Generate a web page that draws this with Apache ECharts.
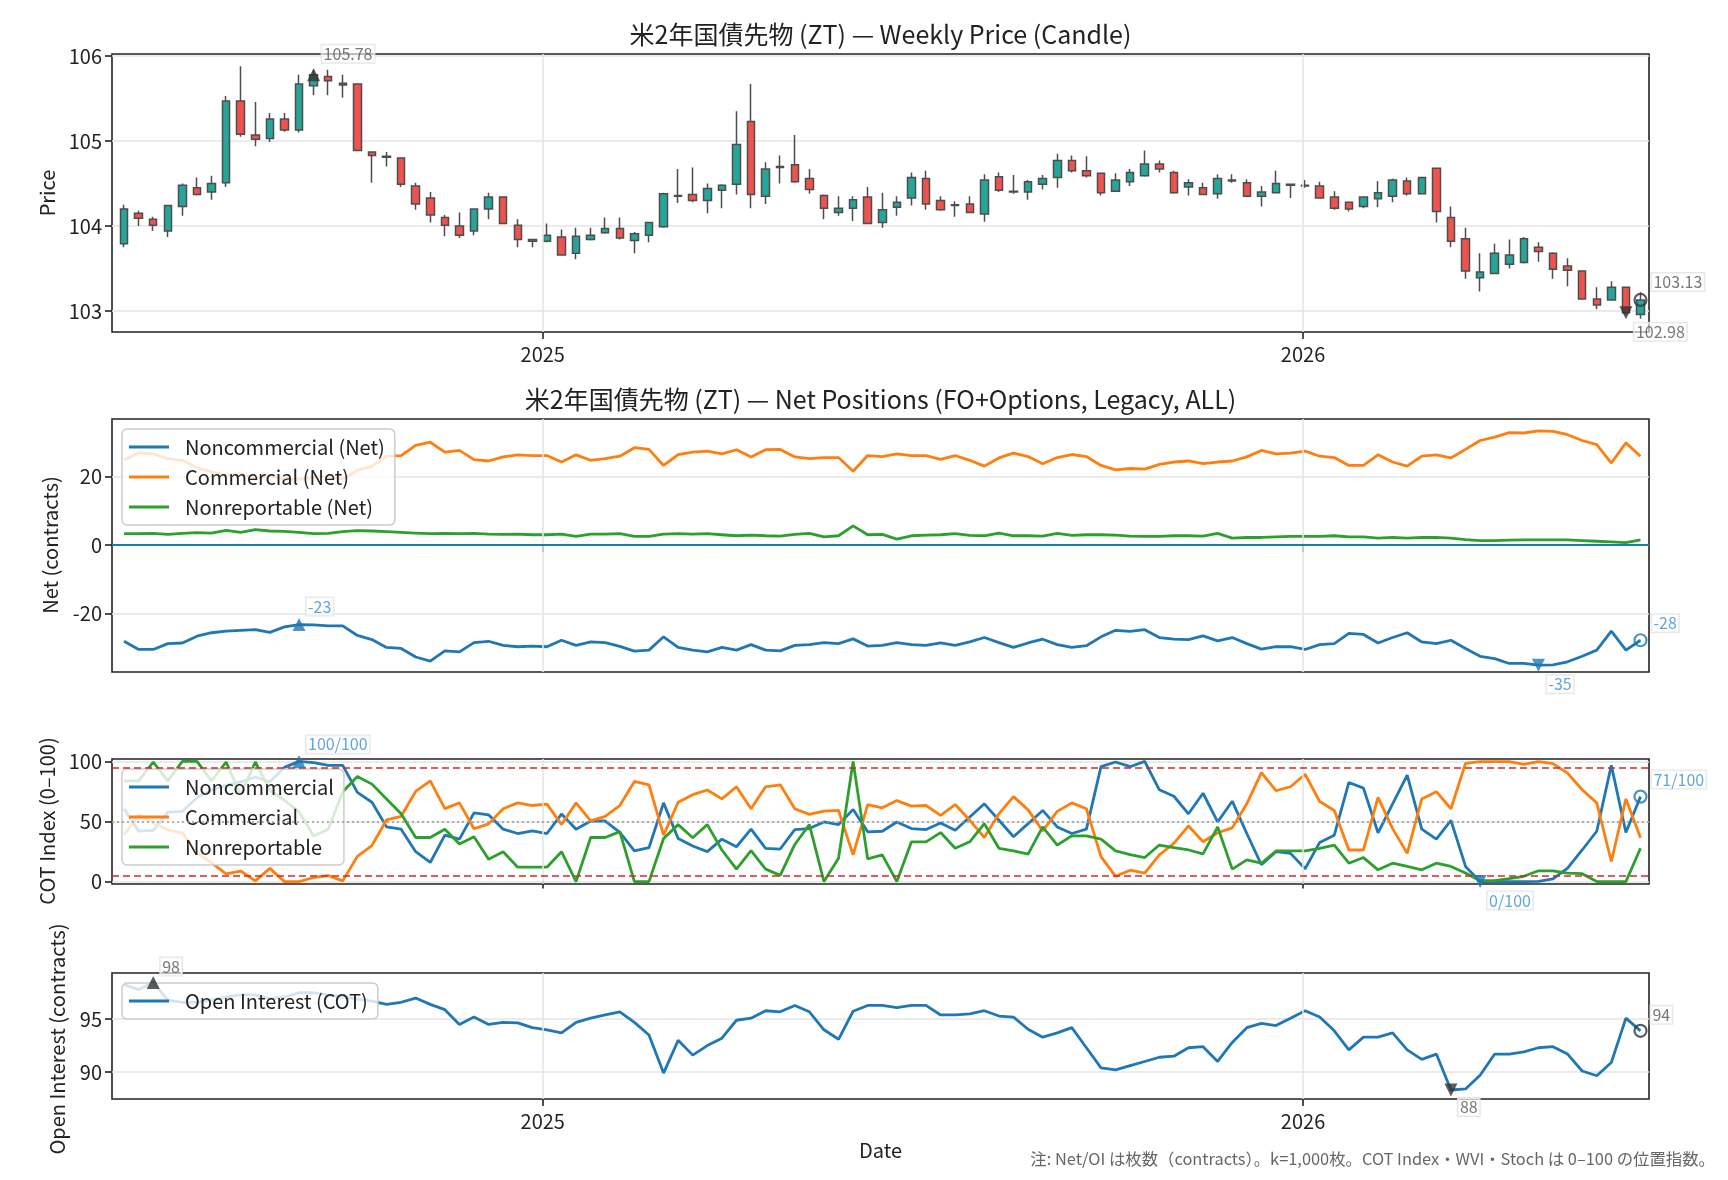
<!DOCTYPE html>
<html>
<head>
<meta charset="utf-8">
<title>ZT weekly</title>
<script src="https://cdn.jsdelivr.net/npm/echarts@6/dist/echarts.min.js"></script>
<style>
  html, body { margin: 0; padding: 0; background: #fff; }
  #main { width: 1728px; height: 1180px; }
</style>
</head>
<body>
<div id="main"></div>
<script>
// weekly bars, first week and step
const START = Date.UTC(2024, 5, 14);
const WEEK = 7 * 86400000;

const priceOpen = [
  103.79, 104.15, 104.08, 103.94, 104.23, 104.45, 104.40, 104.51, 105.47, 105.07,
  105.03, 105.26, 105.13, 105.65, 105.76, 105.66, 105.67, 104.87, 104.82, 104.80,
  104.47, 104.33, 104.10, 104.00, 103.94, 104.20, 104.34, 104.01, 103.84, 103.82,
  103.87, 103.68, 103.84, 103.92, 103.97, 103.83, 103.89, 103.99, 104.35, 104.37,
  104.30, 104.42, 104.49, 105.23, 104.35, 104.69, 104.72, 104.56, 104.36, 104.16,
  104.21, 104.34, 104.04, 104.22, 104.33, 104.56, 104.30, 104.25, 104.26, 104.14,
  104.58, 104.41, 104.40, 104.49, 104.57, 104.77, 104.65, 104.62, 104.41, 104.52,
  104.59, 104.73, 104.63, 104.46, 104.45, 104.38, 104.54, 104.51, 104.35, 104.39,
  104.48, 104.48, 104.47, 104.34, 104.28, 104.23, 104.32, 104.35, 104.53, 104.38,
  104.68, 104.10, 103.85, 103.39, 103.44, 103.55, 103.57, 103.75, 103.68, 103.53,
  103.47, 103.14, 103.13, 103.28, 102.96
];
const priceClose = [
  104.20, 104.09, 104.01, 104.24, 104.48, 104.37, 104.50, 105.47, 105.08, 105.02,
  105.26, 105.13, 105.67, 105.78, 105.71, 105.68, 104.89, 104.83, 104.81, 104.49,
  104.26, 104.13, 104.01, 103.89, 104.20, 104.34, 104.03, 103.84, 103.82, 103.89,
  103.66, 103.88, 103.89, 103.97, 103.86, 103.91, 104.04, 104.38, 104.36, 104.30,
  104.44, 104.48, 104.96, 104.37, 104.67, 104.70, 104.52, 104.43, 104.21, 104.21,
  104.31, 104.03, 104.19, 104.28, 104.57, 104.26, 104.19, 104.24, 104.16, 104.54,
  104.42, 104.40, 104.52, 104.56, 104.77, 104.65, 104.59, 104.39, 104.54, 104.63,
  104.73, 104.67, 104.39, 104.51, 104.37, 104.56, 104.53, 104.35, 104.40, 104.50,
  104.49, 104.47, 104.33, 104.21, 104.20, 104.34, 104.39, 104.54, 104.38, 104.57,
  104.17, 103.82, 103.47, 103.46, 103.68, 103.66, 103.85, 103.70, 103.49, 103.48,
  103.14, 103.07, 103.28, 102.98, 103.13
];
const priceLow = [
  103.75, 104.00, 103.94, 103.87, 104.12, 104.36, 104.31, 104.46, 105.05, 104.94,
  104.99, 105.11, 105.10, 105.54, 105.54, 105.51, 104.89, 104.51, 104.70, 104.46,
  104.19, 104.04, 103.88, 103.86, 103.89, 104.08, 104.02, 103.75, 103.75, 103.81,
  103.66, 103.61, 103.83, 103.91, 103.84, 103.68, 103.81, 103.98, 104.27, 104.28,
  104.15, 104.21, 104.37, 104.21, 104.26, 104.50, 104.51, 104.38, 104.08, 104.12,
  104.06, 104.02, 103.98, 104.12, 104.24, 104.19, 104.18, 104.11, 104.15, 104.05,
  104.40, 104.38, 104.31, 104.43, 104.45, 104.63, 104.57, 104.36, 104.40, 104.47,
  104.58, 104.63, 104.38, 104.36, 104.37, 104.32, 104.51, 104.35, 104.23, 104.39,
  104.33, 104.45, 104.33, 104.19, 104.17, 104.21, 104.22, 104.28, 104.36, 104.37,
  104.04, 103.75, 103.38, 103.23, 103.44, 103.50, 103.56, 103.58, 103.38, 103.29,
  103.14, 103.02, 103.13, 102.96, 102.91
];
const priceHigh = [
  104.25, 104.18, 104.11, 104.24, 104.50, 104.57, 104.59, 105.53, 105.88, 105.46,
  105.33, 105.33, 105.78, 105.84, 105.84, 105.78, 105.68, 104.87, 104.87, 104.80,
  104.51, 104.40, 104.13, 104.16, 104.20, 104.39, 104.34, 104.08, 103.85, 104.03,
  103.96, 103.98, 103.98, 104.10, 104.10, 103.93, 104.04, 104.39, 104.67, 104.69,
  104.50, 104.49, 105.35, 105.67, 104.75, 104.83, 105.07, 104.67, 104.37, 104.35,
  104.35, 104.46, 104.39, 104.35, 104.63, 104.65, 104.35, 104.29, 104.35, 104.61,
  104.63, 104.60, 104.54, 104.60, 104.85, 104.83, 104.82, 104.62, 104.62, 104.67,
  104.89, 104.77, 104.65, 104.55, 104.51, 104.61, 104.61, 104.55, 104.47, 104.65,
  104.49, 104.54, 104.52, 104.41, 104.28, 104.35, 104.53, 104.56, 104.57, 104.57,
  104.68, 104.23, 103.98, 103.68, 103.79, 103.84, 103.87, 103.81, 103.69, 103.62,
  103.47, 103.28, 103.35, 103.28, 103.22
];

// net positions, thousands of contracts
const netNoncomm = [
  -28.2, -30.6, -30.6, -28.9, -28.7, -26.7, -25.7, -25.2, -25.0, -24.8,
  -25.6, -24.0, -23.3, -23.4, -23.7, -23.7, -26.5, -27.7, -30.0, -30.3,
  -32.8, -34.0, -31.0, -31.3, -28.6, -28.2, -29.4, -29.8, -29.6, -29.8,
  -27.9, -29.4, -28.4, -28.6, -29.7, -31.1, -30.8, -26.9, -30.0, -30.8,
  -31.3, -30.0, -30.8, -29.2, -30.8, -31.0, -29.4, -29.2, -28.6, -28.9,
  -27.5, -29.6, -29.4, -28.6, -29.2, -29.4, -28.7, -29.4, -28.4, -27.1,
  -28.6, -30.0, -28.7, -27.6, -29.2, -30.0, -29.5, -26.9, -25.0, -25.3,
  -24.8, -27.1, -27.6, -27.7, -26.6, -28.1, -27.1, -28.9, -30.5, -29.8,
  -29.8, -30.6, -29.2, -28.9, -25.9, -26.2, -28.7, -27.1, -25.7, -28.4,
  -28.9, -27.9, -30.3, -32.6, -33.3, -34.7, -34.7, -35.2, -35.1, -34.2,
  -32.6, -30.8, -25.2, -30.8, -27.9
];
const netComm = [
  24.8, 27.0, 26.7, 25.3, 24.8, 22.6, 21.4, 20.4, 20.9, 19.4,
  20.3, 19.3, 19.3, 19.8, 20.1, 19.3, 21.9, 23.0, 26.0, 26.2,
  29.2, 30.1, 27.2, 27.7, 25.0, 24.6, 25.8, 26.4, 26.2, 26.2,
  24.3, 26.4, 24.8, 25.3, 26.0, 28.5, 28.0, 23.3, 26.5, 27.2,
  27.5, 26.7, 27.9, 25.8, 27.9, 28.0, 25.8, 25.3, 25.6, 25.6,
  21.6, 26.2, 25.9, 26.7, 26.2, 26.2, 25.1, 26.2, 24.8, 23.1,
  25.5, 26.9, 25.9, 23.8, 25.6, 26.5, 25.9, 23.3, 22.0, 22.4,
  22.2, 23.6, 24.3, 24.6, 23.8, 24.3, 24.6, 25.8, 27.7, 26.7,
  26.9, 27.5, 26.0, 25.6, 23.3, 23.3, 26.4, 24.3, 23.1, 26.0,
  26.4, 25.5, 28.0, 30.6, 31.6, 32.9, 32.8, 33.4, 33.3, 32.3,
  30.6, 29.4, 24.0, 29.9, 26.0
];
const netNonrep = [
  3.3, 3.3, 3.4, 3.1, 3.4, 3.6, 3.5, 4.3, 3.7, 4.5,
  4.1, 4.0, 3.7, 3.3, 3.4, 3.9, 4.2, 4.1, 3.9, 3.7,
  3.5, 3.3, 3.4, 3.3, 3.4, 3.2, 3.1, 3.2, 3.0, 3.0,
  3.2, 2.5, 3.2, 3.2, 3.3, 2.5, 2.5, 3.2, 3.3, 3.2,
  3.3, 3.0, 2.7, 2.9, 2.7, 2.6, 3.1, 3.4, 2.4, 2.7,
  5.6, 3.0, 3.1, 1.7, 2.7, 2.9, 3.0, 3.3, 2.8, 2.7,
  3.5, 2.7, 2.7, 2.6, 3.4, 2.8, 3.0, 3.0, 2.9, 2.6,
  2.5, 2.5, 2.7, 2.7, 2.6, 3.4, 2.0, 2.2, 2.2, 2.4,
  2.5, 2.5, 2.5, 2.7, 2.4, 2.4, 2.0, 2.2, 2.0, 2.2,
  2.2, 2.0, 1.6, 1.3, 1.3, 1.4, 1.5, 1.5, 1.5, 1.5,
  1.3, 1.1, 0.9, 0.7, 1.5
];

// COT index 0-100
const cotNoncomm = [
  60.5, 42.0, 42.7, 57.8, 58.4, 70, 76, 80, 83, 87,
  83, 95, 100, 99, 96.7, 96.7, 74.2, 66.0, 45.5, 43.6,
  24.9, 15.9, 38.6, 35.3, 57.2, 55.6, 43.6, 40.0, 42.2, 40.0,
  56.2, 43.6, 50.4, 50.4, 41.0, 25.5, 28.2, 65.5, 35.9, 29.6,
  24.9, 35.3, 29.0, 43.6, 27.7, 27.1, 43.3, 44.1, 49.6, 47.4,
  60.0, 41.4, 41.9, 49.6, 44.1, 43.3, 48.7, 42.7, 53.7, 64.7,
  51.0, 37.3, 48.2, 59.2, 45.5, 40.0, 43.6, 95.6, 99.5, 95.6,
  100, 76.4, 71.0, 56.4, 73.5, 49.6, 66.9, 40.0, 14.0, 24.9,
  23.5, 10.7, 32.6, 38.6, 82.5, 77.8, 40.6, 64.7, 88.5, 43.6,
  35.3, 51.0, 12.6, 0, 0, 0, 0, 0.2, 2.2, 11.2,
  26.3, 41.9, 96.7, 40.8, 70.7
];
const cotComm = [
  38.9, 55.5, 49.0, 43.0, 40.5, 23.8, 15.6, 6.5, 8.8, 0.6,
  11.0, 0, 0, 3.4, 5.0, 0.6, 21.0, 30.0, 51.3, 54.3,
  75.0, 83.8, 60.7, 65.5, 44.0, 48.0, 60.6, 65.5, 63.3, 64.5,
  47.5, 65.5, 50.5, 54.2, 63.3, 83.3, 80.5, 38.6, 66.0, 72.3,
  76.2, 68.8, 78.9, 60.6, 78.9, 80.5, 60.6, 55.9, 58.6, 59.2,
  22.2, 64.1, 61.4, 67.4, 62.8, 63.3, 55.1, 64.1, 51.0, 36.7,
  56.4, 70.7, 59.7, 42.2, 58.4, 65.5, 60.6, 20.8, 4.4, 9.5,
  7.1, 22.2, 31.8, 46.3, 33.1, 40.6, 44.7, 64.7, 90.7, 75.6,
  78.9, 89.3, 66.6, 59.2, 26.3, 26.3, 70.1, 44.1, 23.5, 68.8,
  74.8, 60.6, 98.4, 99.8, 99.8, 99.8, 97.6, 99.8, 98.1, 90.2,
  76.4, 65.5, 16.7, 68.8, 36.5
];
const cotNonrep = [
  83.8, 83.8, 99.5, 83.8, 100, 100, 83.8, 99.5, 72, 99.5,
  76, 67.7, 58, 38, 43.6, 74.8, 87.4, 81.1, 68.8, 56.4,
  36.7, 36.7, 43.6, 31.2, 37.3, 18.6, 24.9, 12.0, 12.0, 12.0,
  24.9, 0, 36.7, 36.7, 41.6, 0, 0, 35.9, 47.4, 36.5,
  47.4, 26.3, 10.4, 25.7, 10.4, 5.2, 30.9, 47.4, 0, 19.4,
  100, 18.9, 22.2, 0, 33.1, 33.1, 40.8, 27.7, 33.1, 48.2,
  27.7, 25.5, 22.8, 45.5, 30.4, 38.1, 38.1, 35.3, 25.5, 22.5,
  20.0, 30.4, 28.2, 26.3, 23.0, 45.5, 10.4, 18.1, 15.3, 25.5,
  25.5, 25.5, 27.7, 30.4, 15.3, 20.0, 9.8, 15.3, 12.6, 9.8,
  15.3, 12.6, 7.1, 0.8, 0.8, 2.5, 4.4, 9.0, 9.0, 7.1,
  6.6, 0, 0, 0, 27.7
];

// open interest, thousands
const openInterest = [
  98.27, 97.8, 98.46, 96.8, 96.6, 96.6, 96.8, 97.1, 97.3, 97.3,
  96.95, 97.1, 97.5, 97.5, 97.3, 97.1, 96.9, 96.7, 96.4, 96.6,
  97.0, 96.4, 95.9, 94.5, 95.2, 94.5, 94.7, 94.65, 94.2, 94.0,
  93.7, 94.7, 95.1, 95.4, 95.7, 94.7, 93.5, 89.9, 93.0, 91.6,
  92.5, 93.2, 94.9, 95.1, 95.8, 95.7, 96.3, 95.7, 94.0, 93.1,
  95.75, 96.3, 96.3, 96.1, 96.3, 96.3, 95.4, 95.4, 95.5, 95.8,
  95.3, 95.2, 94.05, 93.3, 93.7, 94.2, 92.3, 90.4, 90.2, 90.6,
  91.0, 91.4, 91.5, 92.3, 92.4, 91.0, 92.8, 94.2, 94.6, 94.4,
  95.1, 95.8, 95.2, 93.9, 92.1, 93.3, 93.3, 93.7, 92.1, 91.2,
  91.7, 88.3, 88.4, 89.7, 91.7, 91.7, 91.9, 92.3, 92.4, 91.7,
  90.1, 89.65, 90.9, 95.1, 93.9
];

// ticks
const yearTicks = [Date.UTC(2025, 0, 1), Date.UTC(2026, 0, 1)];
const priceTicks = [103, 104, 105, 106];
const netTicks = [-20, 0, 20];
const cotTicks = [0, 50, 100];
const oiTicks = [90, 95];

const dates = priceClose.map((_, i) => START + i * WEEK);

const FONT = '"Noto Sans CJK JP", "Noto Sans", sans-serif';
const X_MIN = Date.UTC(2024, 5, 8, 5);
const X_MAX = Date.UTC(2026, 5, 16, 2);
const BLUE = '#1f77b4', ORANGE = '#ff7f0e', GREEN = '#2ca02c';
const GRID_COLOR = '#e5e5e5';

function xAxisFor(i, labels) {
    return {
        type: 'value', gridIndex: i, min: X_MIN, max: X_MAX, scale: true,
        axisLine: { show: false },
        axisTick: { show: true, length: 7, customValues: yearTicks, lineStyle: { color: '#222', width: 1.6 } },
        axisLabel: {
            show: labels, customValues: yearTicks, margin: 12,
            formatter: v => String(new Date(v).getUTCFullYear()),
            color: '#222', fontSize: 20, fontFamily: FONT
        },
        splitLine: { show: false }
    };
}

function yAxisFor(i, min, max, split, ticks) {
    return {
        type: 'value', gridIndex: i, min: min, max: max, splitNumber: split, scale: true,
        axisLine: { show: false },
        axisTick: { show: true, length: 7, customValues: ticks, lineStyle: { color: '#222', width: 1.6 } },
        axisLabel: { customValues: ticks, margin: 10, color: '#222', fontSize: 20, fontFamily: FONT },
        splitLine: { show: true, lineStyle: { color: GRID_COLOR, width: 1.6 } }
    };
}

// vertical year grid lines, drawn under the data
function yearGrid(gi) {
    return {
        type: 'line', xAxisIndex: gi, yAxisIndex: gi, data: [], silent: true, z: 1,
        markLine: {
            silent: true, symbol: ['none', 'none'], label: { show: false },
            lineStyle: { color: GRID_COLOR, width: 1.6, type: 'solid' },
            data: yearTicks.map(t => ({ xAxis: t }))
        }
    };
}

function legendAt(top, names) {
    return {
        data: names, orient: 'vertical', left: 122, top: top, icon: 'rect',
        itemWidth: 40, itemHeight: 3, itemGap: 10, padding: [8, 10, 8, 7],
        backgroundColor: 'rgba(255,255,255,0.8)', borderColor: '#cccccc', borderWidth: 1.5, borderRadius: 5,
        textStyle: { fontSize: 20, fontFamily: FONT, color: '#222', padding: [0, 0, 0, 11] },
        selectedMode: false
    };
}

function lineSeries(name, gi, values, color, extra) {
    return Object.assign({
        name: name, type: 'line', xAxisIndex: gi, yAxisIndex: gi,
        data: values.map((v, i) => [dates[i], v]),
        showSymbol: false, color: color,
        lineStyle: { color: color, width: 2.8 },
        z: 3
    }, extra || {});
}

// annotation marker with a small boxed label
function marker(gi, idx, value, kind, color, text, textColor, dx, dy) {
    const circle = kind === 'last';
    return {
        type: 'scatter', xAxisIndex: gi, yAxisIndex: gi, silent: true, z: 6,
        symbol: circle ? 'circle' : 'triangle',
        symbolRotate: kind === 'min' ? 180 : 0,
        symbolSize: circle ? 12 : 13,
        itemStyle: circle
            ? { color: 'rgba(0,0,0,0)', borderColor: color, borderWidth: 2.2 }
            : { color: color },
        data: [[dates[idx], value]],
        label: {
            show: true, position: 'inside', formatter: text, align: 'left', verticalAlign: 'middle',
            offset: [dx, dy], color: textColor, fontSize: 16, fontFamily: FONT,
            backgroundColor: 'rgba(255,255,255,0.75)', borderColor: '#e0e0e0', borderWidth: 1, padding: [1, 2]
        }
    };
}

function argMax(a) { let k = 0; a.forEach((v, i) => { if (v > a[k]) k = i; }); return k; }
function argMin(a) { let k = 0; a.forEach((v, i) => { if (v < a[k]) k = i; }); return k; }
const LAST = priceClose.length - 1;

const pMax = argMax(priceClose), pMin = argMin(priceClose);
const nMax = argMax(netNoncomm), nMin = argMin(netNoncomm);
const cMax = argMax(cotNoncomm), cMin = argMin(cotNoncomm);
const oMax = argMax(openInterest), oMin = argMin(openInterest);

const chart = echarts.init(document.getElementById('main'), null, { renderer: 'canvas' });

const option = {
    animation: false,
    backgroundColor: '#ffffff',
    grid: [
        { left: 112, top: 54, width: 1537, height: 278 },
        { left: 112, top: 419, width: 1537, height: 253 },
        { left: 112, top: 759, width: 1537, height: 125 },
        { left: 112, top: 973, width: 1537, height: 126 }
    ].map(g => Object.assign({ show: true, borderColor: '#222', borderWidth: 1.6, backgroundColor: 'transparent' }, g)),
    xAxis: [xAxisFor(0, true), xAxisFor(1, false), xAxisFor(2, false), xAxisFor(3, true)],
    yAxis: [
        yAxisFor(0, 102.753, 106.024, 3, priceTicks),
        yAxisFor(1, -37.2, 36.9, 3, netTicks),
        yAxisFor(2, -2, 102, 2, cotTicks),
        yAxisFor(3, 87.45, 99.37, 2, oiTicks)
    ],
    legend: [
        legendAt(429, ['Noncommercial (Net)', 'Commercial (Net)', 'Nonreportable (Net)']),
        legendAt(769, ['Noncommercial', 'Commercial', 'Nonreportable']),
        legendAt(983, ['Open Interest (COT)'])
    ],
    graphic: [
        { type: 'text', x: 880.5, y: 34, style: { text: '米2年国債先物 (ZT) — Weekly Price (Candle)', fill: '#222', font: '25px ' + FONT, align: 'center', verticalAlign: 'middle' } },
        { type: 'text', x: 880.5, y: 399, style: { text: '米2年国債先物 (ZT) — Net Positions (FO+Options, Legacy, ALL)', fill: '#222', font: '25px ' + FONT, align: 'center', verticalAlign: 'middle' } },
        { type: 'text', x: 47, y: 193, rotation: Math.PI / 2, style: { text: 'Price', fill: '#222', font: '20px ' + FONT, align: 'center', verticalAlign: 'middle' } },
        { type: 'text', x: 50, y: 545, rotation: Math.PI / 2, style: { text: 'Net (contracts)', fill: '#222', font: '20px ' + FONT, align: 'center', verticalAlign: 'middle' } },
        { type: 'text', x: 47, y: 821, rotation: Math.PI / 2, style: { text: 'COT Index (0–100)', fill: '#222', font: '20px ' + FONT, align: 'center', verticalAlign: 'middle' } },
        { type: 'text', x: 57, y: 1039, rotation: Math.PI / 2, style: { text: 'Open Interest (contracts)', fill: '#222', font: '20px ' + FONT, align: 'center', verticalAlign: 'middle' } },
        { type: 'text', x: 880.5, y: 1150, style: { text: 'Date', fill: '#222', font: '20px ' + FONT, align: 'center', verticalAlign: 'middle' } },
        { type: 'text', x: 1715, y: 1159, style: { text: '注: Net/OI は枚数（contracts）。k=1,000枚。COT Index・WVI・Stoch は 0–100 の位置指数。', fill: '#666', font: '16.4px ' + FONT, align: 'right', verticalAlign: 'middle' } }
    ],
    series: [
        yearGrid(0), yearGrid(1), yearGrid(2), yearGrid(3),
        {
            name: 'Price', type: 'candlestick', xAxisIndex: 0, yAxisIndex: 0, barWidth: 8,
            data: dates.map((d, i) => [d, priceOpen[i], priceClose[i], priceLow[i], priceHigh[i]]),
            itemStyle: { color: '#26a69a', color0: '#ef5350', borderColor: '#4d4d4d', borderColor0: '#4d4d4d', borderWidth: 1.5 },
            z: 3
        },
        lineSeries('Noncommercial (Net)', 1, netNoncomm, BLUE, {
            markLine: {
                silent: true, symbol: ['none', 'none'], label: { show: false },
                lineStyle: { color: BLUE, width: 2, type: 'solid' },
                data: [{ yAxis: 0 }]
            }
        }),
        lineSeries('Commercial (Net)', 1, netComm, ORANGE),
        lineSeries('Nonreportable (Net)', 1, netNonrep, GREEN),
        lineSeries('Noncommercial', 2, cotNoncomm, BLUE, {
            markLine: {
                silent: true, symbol: ['none', 'none'], label: { show: false },
                data: [
                    { yAxis: 95, lineStyle: { color: '#d62728', opacity: 0.75, width: 2, type: [7, 4] } },
                    { yAxis: 5, lineStyle: { color: '#d62728', opacity: 0.75, width: 2, type: [7, 4] } },
                    { yAxis: 50, lineStyle: { color: '#999999', width: 1.6, type: [2, 3] } }
                ]
            }
        }),
        lineSeries('Commercial', 2, cotComm, ORANGE),
        lineSeries('Nonreportable', 2, cotNonrep, GREEN),
        lineSeries('Open Interest (COT)', 3, openInterest, BLUE),

        marker(0, pMax, priceClose[pMax], 'max', '#333', priceClose[pMax].toFixed(2), '#555', 8, -21),
        marker(0, pMin, priceClose[pMin], 'min', '#333', priceClose[pMin].toFixed(2), '#555', 8, 19),
        marker(0, LAST, priceClose[LAST], 'last', '#333', priceClose[LAST].toFixed(2), '#555', 11, -18),

        marker(1, nMax, netNoncomm[nMax], 'max', BLUE, String(Math.round(netNoncomm[nMax])), '#3a8fd0', 7, -18),
        marker(1, nMin, netNoncomm[nMin], 'min', BLUE, String(Math.round(netNoncomm[nMin])), '#3a8fd0', 8, 19),
        marker(1, LAST, netNoncomm[LAST], 'last', BLUE, String(Math.round(netNoncomm[LAST])), '#3a8fd0', 11, -17),

        marker(2, cMax, cotNoncomm[cMax], 'max', BLUE, Math.round(cotNoncomm[cMax]) + '/100', '#3a8fd0', 7, -17),
        marker(2, cMin, cotNoncomm[cMin], 'min', BLUE, Math.round(cotNoncomm[cMin]) + '/100', '#3a8fd0', 7, 19),
        marker(2, LAST, cotNoncomm[LAST], 'last', BLUE, Math.round(cotNoncomm[LAST]) + '/100', '#3a8fd0', 11, -17),

        marker(3, oMax, openInterest[oMax], 'max', '#333', String(Math.round(openInterest[oMax])), '#555', 7, -16),
        marker(3, oMin, openInterest[oMin], 'min', '#333', String(Math.round(openInterest[oMin])), '#555', 7, 17),
        marker(3, LAST, openInterest[LAST], 'last', '#333', String(Math.round(openInterest[LAST])), '#555', 10, -16)
    ]
};

chart.setOption(option);
</script>
</body>
</html>
